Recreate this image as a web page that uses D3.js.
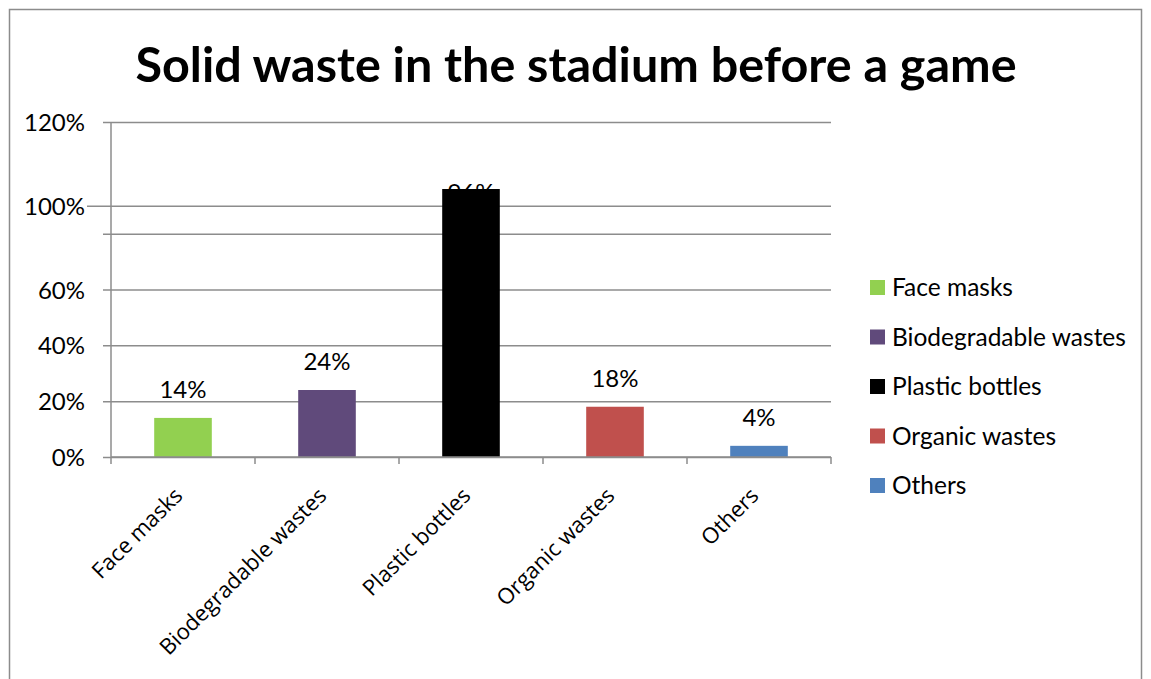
<!DOCTYPE html>
<head>
  <meta charset="utf-8">
  <script src="https://d3js.org/d3.v7.min.js"></script>
  <style>
  *{ margin:0; padding:0; }
  body{ background:#fff; }
  text{ fill:#000; font-family:Lato, sans-serif; font-size:24px; }
  </style>
</head>
<body>
  <svg id="chart"></svg>
  <script>
    // chart data
    let categories = ["Face masks", "Biodegradable wastes", "Plastic bottles", "Organic wastes", "Others"];
    let values = [14, 24, 96, 18, 4];
    let colors = ["#92d050", "#604a7b", "#000000", "#c0504d", "#4f81bd"];
    let tickValues = [0, 20, 40, 60, 80, 90, 120];
    let tickLabels = ["0%", "20%", "40%", "60%", "", "100%", "120%"];
    let title = "Solid waste in the stadium before a game";

    let W = 1151, H = 679;
    let svg = d3.select("#chart").attr("width", W).attr("height", H);

    // outer frame
    svg.append("rect")
      .attr("x", 9.5).attr("y", 9.5)
      .attr("width", 1132).attr("height", 700)
      .attr("fill", "none").attr("stroke", "#8c8c8c").attr("stroke-width", 1.5);

    // title
    svg.append("text")
      .attr("x", 576).attr("y", 82)
      .attr("text-anchor", "middle")
      .style("font-weight", "bold")
      .style("font-size", "48.5px")
      .text(title);

    let pLeft = 111, pRight = 831, pTop = 122, pBottom = 457;

    let x = d3.scaleBand().domain(categories).range([pLeft, pRight]).paddingInner(0.6).paddingOuter(0.3);
    let xb = d3.scaleBand().domain(categories).range([pLeft, pRight]);
    let y = d3.scaleLinear().domain([0, 120]).range([pBottom, pTop]);

    // gridlines + y labels
    let yAxis = d3.axisLeft(y)
      .tickValues(tickValues)
      .tickSize(-(pRight - pLeft))
      .tickFormat((d, i) => tickLabels[i]);
    let yg = svg.append("g").attr("transform", `translate(${pLeft},0)`).call(yAxis);
    yg.select(".domain").remove();
    yg.selectAll(".tick line")
      .attr("x1", d => d === 90 ? -24 : -8)
      .attr("stroke", "#8c8c8c").attr("stroke-width", 1.5);
    yg.selectAll(".tick text")
      .attr("x", -26).attr("dy", "0.36em")
      .style("font-family", "Lato, sans-serif")
      .style("font-size", "24px")
      .attr("fill", "#000");

    // y axis line
    svg.append("line")
      .attr("x1", pLeft).attr("x2", pLeft).attr("y1", pTop).attr("y2", pBottom)
      .attr("stroke", "#8c8c8c").attr("stroke-width", 1.5);

    // value labels (the tallest one sits behind its bar)
    let maxV = d3.max(values);
    svg.selectAll("text.val")
      .data(values)
      .enter().append("text")
      .attr("class", "val")
      .attr("x", (d, i) => x(categories[i]) + x.bandwidth() / 2)
      .attr("y", d => d === maxV ? y(d) + 12 : y(d) - 20)
      .attr("text-anchor", "middle")
      .text(d => d + "%");

    // bars
    svg.selectAll("rect.bar")
      .data(values)
      .enter().append("rect")
      .attr("class", "bar")
      .attr("x", (d, i) => x(categories[i]))
      .attr("y", d => y(d))
      .attr("width", x.bandwidth())
      .attr("height", d => y(0) - y(d))
      .attr("fill", (d, i) => colors[i]);

    // x axis
    svg.append("line")
      .attr("x1", pLeft).attr("x2", pRight).attr("y1", pBottom).attr("y2", pBottom)
      .attr("stroke", "#8c8c8c").attr("stroke-width", 1.5);
    let bounds = categories.map(c => xb(c)).concat([pRight]);
    svg.selectAll("line.xtick")
      .data(bounds)
      .enter().append("line")
      .attr("class", "xtick")
      .attr("x1", d => d).attr("x2", d => d)
      .attr("y1", pBottom).attr("y2", pBottom + 7)
      .attr("stroke", "#8c8c8c").attr("stroke-width", 1.5);

    // rotated category labels
    svg.selectAll("text.cat")
      .data(categories)
      .enter().append("text")
      .attr("class", "cat")
      .attr("text-anchor", "end")
      .attr("transform", d => `translate(${xb(d) + xb.bandwidth() / 2 + 1},${pBottom + 40}) rotate(-45)`)
      .style("font-family", "'Open Sans', sans-serif")
      .style("font-size", "22px")
      .text(d => d);

    // legend
    let legend = svg.selectAll("g.leg")
      .data(categories)
      .enter().append("g")
      .attr("class", "leg")
      .attr("transform", (d, i) => `translate(870,${287 + i * 49.5})`);
    legend.append("rect")
      .attr("x", 0).attr("y", -7)
      .attr("width", 15).attr("height", 15)
      .attr("fill", (d, i) => colors[i]);
    legend.append("text")
      .attr("x", 22).attr("y", 9)
      .style("font-size", "24.5px")
      .text(d => d);
  </script>
</body>
